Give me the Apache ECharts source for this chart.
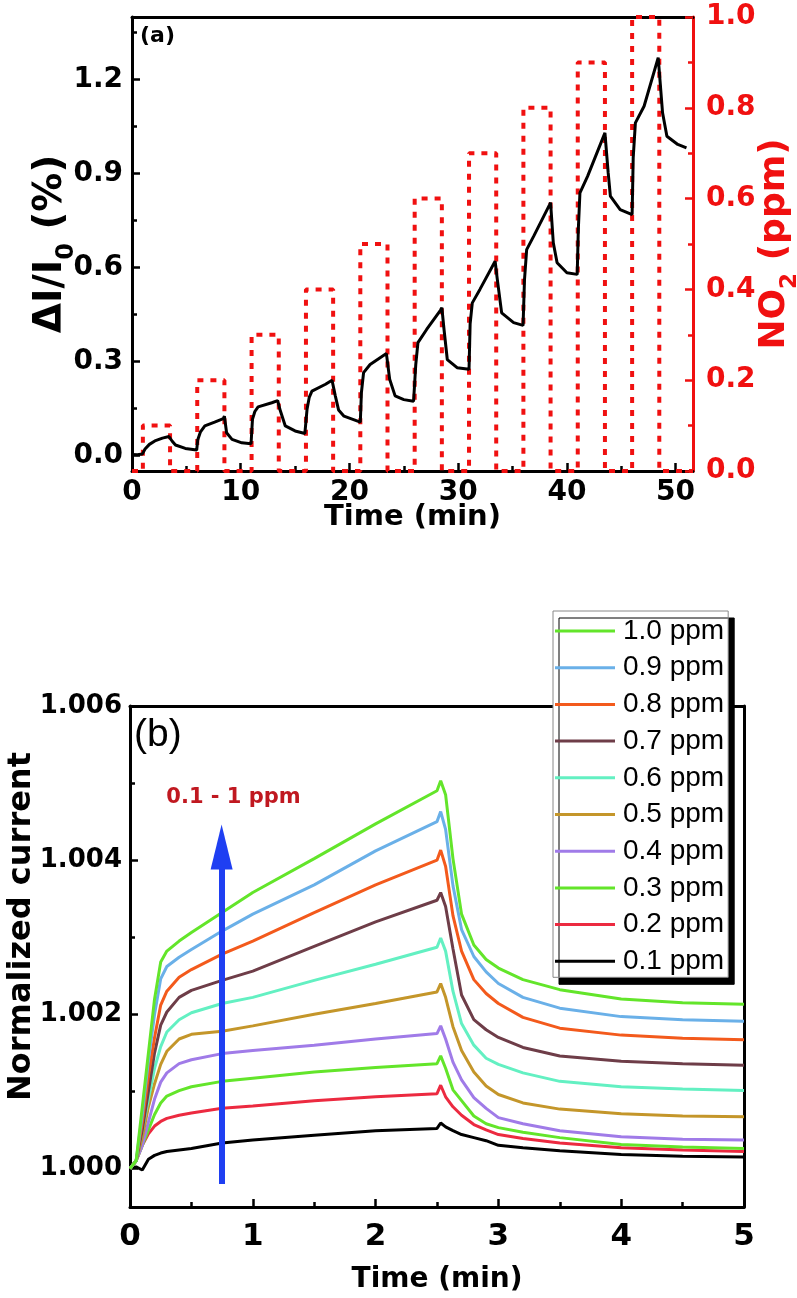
<!DOCTYPE html>
<html>
<head>
<meta charset="utf-8">
<script src="https://cdn.jsdelivr.net/npm/echarts@6.0.0/dist/echarts.min.js"></script>
<style>
html, body { margin: 0; padding: 0; background: #fff; }
#main { width: 797px; height: 1298px; }
</style>
</head>
<body>
<div id="main"></div>
<script>
// panel (a): response vs time and NO2 pulses
var timeA = [0, 0.5, 0.95, 1.2, 1.6, 2.1, 2.8, 3.4, 3.5, 3.7, 4.0, 4.9, 5.95,
    6.05, 6.3, 6.7, 7.6, 8.4, 8.5, 8.7, 9.2, 10.1, 10.95,
    11.08, 11.3, 11.6, 12.86, 13.4, 13.5, 13.6, 14.1, 15.0, 15.9,
    16.1, 16.3, 16.55, 17.8, 18.4, 18.5, 18.7, 19.0, 19.5, 21.0,
    21.1, 21.3, 21.9, 23.4, 23.5, 23.7, 24.2, 25.0, 25.9,
    26.1, 26.3, 27.1, 28.4, 28.5, 28.7, 29.0, 29.9, 31.0,
    31.1, 31.3, 32.0, 33.4, 33.5, 33.6, 34.0, 35.1, 35.97,
    36.1, 36.3, 36.95, 38.4, 38.5, 38.75, 39.1, 40.0, 40.95,
    41.05, 41.2, 41.9, 43.5, 43.6, 43.8, 44.0, 44.9, 46.0,
    46.1, 46.3, 47.1, 48.4, 48.5, 48.8, 49.2, 50.2, 51.0];
var respA = [0.003, 0.002, 0.004, 0.02, 0.035, 0.046, 0.055, 0.06, 0.065, 0.045, 0.033, 0.022, 0.017,
    0.05, 0.075, 0.094, 0.106, 0.117, 0.125, 0.072, 0.051, 0.04, 0.037,
    0.115, 0.14, 0.155, 0.168, 0.175, 0.18, 0.147, 0.094, 0.078, 0.07,
    0.147, 0.185, 0.205, 0.227, 0.24, 0.245, 0.19, 0.145, 0.125, 0.106,
    0.2, 0.264, 0.29, 0.325, 0.33, 0.243, 0.19, 0.178, 0.173,
    0.29, 0.36, 0.402, 0.465, 0.472, 0.402, 0.306, 0.28, 0.275,
    0.42, 0.487, 0.53, 0.62, 0.626, 0.562, 0.455, 0.424, 0.415,
    0.56, 0.657, 0.70, 0.80, 0.807, 0.679, 0.615, 0.583, 0.578,
    0.72, 0.838, 0.891, 1.03, 1.035, 0.902, 0.828, 0.785, 0.769,
    0.95, 1.062, 1.115, 1.27, 1.275, 1.094, 1.019, 0.993, 0.982];
var pulseOn = [1, 6, 11, 16, 21, 26, 31, 36, 41, 46];
var pulseOff = [3.5, 8.5, 13.5, 18.5, 23.5, 28.5, 33.5, 38.5, 43.5, 48.5];
var pulseLevel = [0.1, 0.2, 0.3, 0.4, 0.5, 0.6, 0.7, 0.8, 0.9, 1.0];
var ticksA_x = [0, 10, 20, 30, 40, 50];
var minorA_x = [5, 15, 25, 35, 45];
var ticksA_y = [0, 0.3, 0.6, 0.9, 1.2];
var minorA_y = [0.15, 0.45, 0.75, 1.05, 1.35];

// panel (b): normalized current
var timeB = [0, 0.05, 0.1, 0.15, 0.2, 0.25, 0.3, 0.4, 0.5, 0.75, 1.0, 1.5, 2.0, 2.5, 2.53, 2.57, 2.63, 2.7, 2.8, 2.9, 3.0, 3.2, 3.5, 4.0, 4.5, 5.0];
var ppm10 = [1.0000, 1.0001, 1.0008, 1.0015, 1.0022, 1.00268, 1.00282, 1.00295, 1.00306, 1.00332, 1.00358, 1.00402, 1.00447, 1.0049, 1.00503, 1.00485, 1.00402, 1.0033, 1.0029, 1.00271, 1.0026, 1.00245, 1.00232, 1.0022, 1.00215, 1.00213];
var ppm09 = [1.0000, 1.0001, 1.0007, 1.0014, 1.002, 1.00246, 1.00262, 1.00274, 1.00284, 1.00308, 1.0033, 1.00368, 1.00412, 1.0045, 1.00463, 1.0044, 1.00367, 1.0031, 1.00275, 1.00255, 1.0024, 1.00222, 1.00208, 1.00197, 1.00193, 1.00191];
var ppm08 = [1.0000, 1.0001, 1.0006, 1.0012, 1.0017, 1.00212, 1.0023, 1.00248, 1.00258, 1.00278, 1.00295, 1.00332, 1.00368, 1.004, 1.00413, 1.00392, 1.00328, 1.00282, 1.00245, 1.00227, 1.00214, 1.00196, 1.00182, 1.00173, 1.00169, 1.00167];
var ppm07 = [1.0000, 1.0001, 1.0005, 1.001, 1.0015, 1.00186, 1.00203, 1.00222, 1.00231, 1.00244, 1.00256, 1.00288, 1.0032, 1.00348, 1.00358, 1.0034, 1.00285, 1.00225, 1.00193, 1.0018, 1.0017, 1.00157, 1.00146, 1.00139, 1.00136, 1.00134];
var ppm06 = [1.0000, 1.0001, 1.0005, 1.0009, 1.0013, 1.00158, 1.00177, 1.00193, 1.00202, 1.00214, 1.00222, 1.00244, 1.00265, 1.00287, 1.00299, 1.00282, 1.0023, 1.00188, 1.0016, 1.00143, 1.00135, 1.00124, 1.00113, 1.00106, 1.00103, 1.00101];
var ppm05 = [1.0000, 1.0001, 1.0004, 1.0008, 1.0011, 1.00135, 1.00152, 1.00168, 1.00174, 1.00178, 1.00185, 1.002, 1.00214, 1.00229, 1.0024, 1.00222, 1.00184, 1.00153, 1.00125, 1.00107, 1.00096, 1.00085, 1.00077, 1.00071, 1.00068, 1.00067];
var ppm04 = [1.0000, 1.0001, 1.0003, 1.0006, 1.0009, 1.00112, 1.00124, 1.00136, 1.00141, 1.00149, 1.00153, 1.0016, 1.00168, 1.00175, 1.00185, 1.00168, 1.00138, 1.00115, 1.00092, 1.00078, 1.00066, 1.00058, 1.00049, 1.00041, 1.00038, 1.00037];
var ppm03 = [1.0000, 1.0001, 1.0003, 1.0005, 1.0007, 1.00085, 1.00094, 1.00101, 1.00106, 1.00113, 1.00117, 1.00125, 1.00131, 1.00136, 1.00146, 1.0013, 1.00102, 1.00088, 1.00068, 1.00058, 1.00053, 1.00047, 1.0004, 1.00031, 1.00028, 1.00026];
var ppm02 = [1.0000, 1.0001, 1.0003, 1.00045, 1.00055, 1.00061, 1.00065, 1.00069, 1.00072, 1.00078, 1.00081, 1.00088, 1.00093, 1.00097, 1.00108, 1.00093, 1.0008, 1.00069, 1.00057, 1.0005, 1.00044, 1.00039, 1.00033, 1.00027, 1.00024, 1.00022];
var ppm01 = [1.0000, 1.00002, 0.99998, 1.00012, 1.00017, 1.0002, 1.00022, 1.00024, 1.00026, 1.00033, 1.00037, 1.00043, 1.00049, 1.00052, 1.00059, 1.00054, 1.00049, 1.00044, 1.0004, 1.00036, 1.0003, 1.00027, 1.00023, 1.00018, 1.00016, 1.00015];
var namesB = ['1.0 ppm', '0.9 ppm', '0.8 ppm', '0.7 ppm', '0.6 ppm', '0.5 ppm', '0.4 ppm', '0.3 ppm', '0.2 ppm', '0.1 ppm'];
var valuesB = [ppm10, ppm09, ppm08, ppm07, ppm06, ppm05, ppm04, ppm03, ppm02, ppm01];
var colorsB = ['#63e52a', '#6ab0e8', '#f35a1c', '#6e3d48', '#63f0c2', '#c4962a', '#a07be8', '#63e52a', '#ec2a40', '#000000'];
var ticksB_y = [1.000, 1.002, 1.004, 1.006];
var minorB_y = [1.001, 1.003, 1.005];
var arrowX = 0.746, arrowFrom = 0.9998, arrowTo = 1.00417;

var chart = echarts.init(document.getElementById('main'));

var BOLD = 'DejaVu Sans';

function zip(xs, ys) {
    var out = [];
    for (var i = 0; i < xs.length; i++) out.push([xs[i], ys[i]]);
    return out;
}

// NO2 square pulses
var no2 = [[0, 0]];
for (var i = 0; i < pulseOn.length; i++) {
    no2.push([pulseOn[i], 0], [pulseOn[i], pulseLevel[i]], [pulseOff[i], pulseLevel[i]], [pulseOff[i], 0]);
}
no2.push([51.6, 0]);

function frameAxis(grid, pos, min, max) {
    return {
        type: 'value', gridIndex: grid, position: pos, min: min, max: max,
        axisLine: { show: true, onZero: false, lineStyle: { color: '#000', width: 3 } },
        axisTick: { show: false }, axisLabel: { show: false }, splitLine: { show: false }
    };
}
function minorAxis(grid, pos, min, max, vals) {
    return {
        type: 'value', gridIndex: grid, position: pos, min: min, max: max,
        axisLine: { show: false, onZero: false },
        axisTick: { show: true, inside: true, length: 5, customValues: vals, lineStyle: { color: '#000', width: 2.5 } },
        axisLabel: { show: false }, splitLine: { show: false }
    };
}

var seriesB = [];
for (var k = namesB.length - 1; k >= 0; k--) {
    seriesB.push({
        name: namesB[k],
        type: 'line',
        xAxisIndex: 3,
        yAxisIndex: 3,
        symbol: 'none',
        itemStyle: { color: colorsB[k] },
        lineStyle: { color: colorsB[k], width: 3 },
        data: zip(timeB, valuesB[k])
    });
}

var option = {
    animation: false,
    backgroundColor: '#fff',
    grid: [
        { left: 132, top: 17, right: 104, height: 454, outerBoundsMode: 'none' },
        { left: 130, top: 706, right: 53, height: 501, outerBoundsMode: 'none' }
    ],
    legend: {
        data: namesB,
        orient: 'vertical',
        left: 553,
        top: 611,
        icon: 'rect',
        itemWidth: 60,
        itemHeight: 3,
        itemGap: 8.7,
        padding: [6, 4, 2, 2],
        backgroundColor: '#fff',
        borderColor: '#888',
        borderWidth: 1,
        shadowColor: '#000',
        shadowBlur: 0,
        shadowOffsetX: 6,
        shadowOffsetY: 7,
        textStyle: { fontFamily: 'Liberation Sans', fontSize: 28, color: '#000', padding: [0, 0, 0, 3] }
    },
    graphic: [
        { type: 'text', left: 140, top: 25, style: { text: '(a)', font: 'bold 22px "DejaVu Sans"', fill: '#000' } },
        { type: 'text', left: 134, top: 716, style: { text: '(b)', font: '39px "Liberation Sans"', fill: '#000' } }
    ],
    xAxis: [
        {
            type: 'value', gridIndex: 0, position: 'bottom', min: 0, max: 51.6,
            axisLine: { onZero: false, lineStyle: { color: '#000', width: 3 } },
            axisTick: { inside: true, length: 8, customValues: ticksA_x, lineStyle: { color: '#000', width: 2.5 } },
            axisLabel: { customValues: ticksA_x, fontFamily: BOLD, fontWeight: 'bold', fontSize: 28, color: '#000', margin: 8 },
            splitLine: { show: false },
            name: 'Time (min)', nameLocation: 'middle', nameGap: 32, nameMoveOverlap: false,
            nameTextStyle: { fontFamily: BOLD, fontWeight: 'bold', fontSize: 29, color: '#000' }
        },
        minorAxis(0, 'bottom', 0, 51.6, minorA_x),
        frameAxis(0, 'top', 0, 51.6),
        {
            type: 'value', gridIndex: 1, position: 'bottom', min: 0, max: 5, interval: 1,
            axisLine: { onZero: false, lineStyle: { color: '#000', width: 3 } },
            axisTick: { inside: true, length: 8, lineStyle: { color: '#000', width: 2.5 } },
            minorTick: { show: true, splitNumber: 2, length: 5, lineStyle: { color: '#000', width: 2.5 } },
            axisLabel: { fontFamily: BOLD, fontWeight: 'bold', fontSize: 31, color: '#000', margin: 14 },
            splitLine: { show: false },
            name: 'Time (min)', nameLocation: 'middle', nameGap: 59, nameMoveOverlap: false,
            nameTextStyle: { fontFamily: BOLD, fontWeight: 'bold', fontSize: 28, color: '#000' }
        },
        frameAxis(1, 'top', 0, 5)
    ],
    yAxis: [
        {
            type: 'value', gridIndex: 0, position: 'left', min: -0.05, max: 1.4,
            axisLine: { onZero: false, lineStyle: { color: '#000', width: 3 } },
            axisTick: { inside: true, length: 8, customValues: ticksA_y, lineStyle: { color: '#000', width: 2.5 } },
            axisLabel: {
                customValues: ticksA_y, fontFamily: BOLD, fontWeight: 'bold', fontSize: 28, color: '#000', margin: 9,
                formatter: function (v) { return v.toFixed(1); }
            },
            splitLine: { show: false },
            name: '{b|ΔI/I}{s|0}{b| (%)}', nameLocation: 'middle', nameGap: 53, nameRotate: 90, nameMoveOverlap: false,
            nameTextStyle: {
                rich: {
                    b: { fontFamily: BOLD, fontWeight: 'bold', fontSize: 39, color: '#000', verticalAlign: 'bottom', padding: [0, 0, 9, 0] },
                    s: { fontFamily: BOLD, fontWeight: 'bold', fontSize: 24, color: '#000', verticalAlign: 'bottom' }
                }
            }
        },
        minorAxis(0, 'left', -0.05, 1.4, minorA_y),
        {
            type: 'value', gridIndex: 0, position: 'right', min: 0, max: 1, interval: 0.2,
            axisLine: { onZero: false, lineStyle: { color: '#f01010', width: 3 } },
            axisTick: { inside: true, length: 8, lineStyle: { color: '#f01010', width: 2.5 } },
            minorTick: { show: true, splitNumber: 2, length: 5, lineStyle: { color: '#f01010', width: 2.5 } },
            axisLabel: {
                fontFamily: BOLD, fontWeight: 'bold', fontSize: 28, color: '#f01010', margin: 13,
                formatter: function (v) { return v.toFixed(1); }
            },
            splitLine: { show: false },
            name: '{b|NO}{s|2}{b| (ppm)}', nameLocation: 'middle', nameGap: 64, nameRotate: 90, nameMoveOverlap: false,
            nameTextStyle: {
                rich: {
                    b: { fontFamily: BOLD, fontWeight: 'bold', fontSize: 36, color: '#f01010', verticalAlign: 'bottom', padding: [0, 0, 9, 0] },
                    s: { fontFamily: BOLD, fontWeight: 'bold', fontSize: 23, color: '#f01010', verticalAlign: 'bottom' }
                }
            }
        },
        {
            type: 'value', gridIndex: 1, position: 'left', min: 0.9995, max: 1.006,
            axisLine: { onZero: false, lineStyle: { color: '#000', width: 3 } },
            axisTick: { inside: true, length: 8, customValues: ticksB_y, lineStyle: { color: '#000', width: 2.5 } },
            axisLabel: {
                customValues: ticksB_y, fontFamily: BOLD, fontWeight: 'bold', fontSize: 26, color: '#000', margin: 8,
                formatter: function (v) { return v.toFixed(3); }
            },
            splitLine: { show: false },
            name: 'Normalized current', nameLocation: 'middle', nameGap: 92, nameRotate: 90, nameMoveOverlap: false,
            nameTextStyle: { fontFamily: BOLD, fontWeight: 'bold', fontSize: 32, color: '#000', padding: [0, 0, 0, 60] }
        },
        minorAxis(1, 'left', 0.9995, 1.006, minorB_y),
        frameAxis(1, 'right', 0.9995, 1.006)
    ],
    series: [
        {
            name: 'NO2',
            type: 'line',
            xAxisIndex: 0,
            yAxisIndex: 2,
            symbol: 'none',
            lineStyle: { color: '#f01010', width: 4, type: [6, 7] },
            data: no2
        },
        {
            name: 'response',
            type: 'line',
            xAxisIndex: 0,
            yAxisIndex: 0,
            symbol: 'none',
            lineStyle: { color: '#000', width: 3 },
            data: zip(timeA, respA)
        }
    ].concat(seriesB).concat([
        {
            name: 'arrow',
            type: 'line',
            xAxisIndex: 3,
            yAxisIndex: 3,
            data: [],
            markLine: {
                silent: true,
                symbol: 'none',
                label: { show: false },
                lineStyle: { color: '#1f3ff2', width: 6, type: 'solid' },
                data: [[{ coord: [arrowX, arrowFrom] }, { coord: [arrowX, arrowTo] }]]
            },
            markPoint: {
                silent: true,
                data: [
                    { coord: [arrowX, arrowTo], symbol: 'triangle', symbolSize: [22, 45], itemStyle: { color: '#1f3ff2' }, label: { show: false } },
                    {
                        coord: [0.843, 1.00481], symbol: 'rect', symbolSize: 0,
                        label: {
                            show: true, position: 'inside', formatter: '0.1 - 1 ppm',
                            fontFamily: BOLD, fontWeight: 'bold', fontSize: 21, color: '#c01820'
                        }
                    }
                ]
            }
        }
    ])
};

chart.setOption(option);
</script>
</body>
</html>
